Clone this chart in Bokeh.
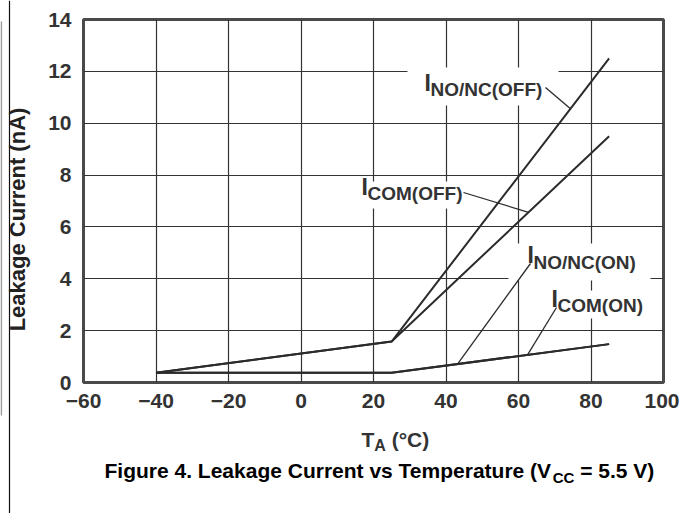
import numpy as np
from bokeh.plotting import figure
from bokeh.layouts import row, column
from bokeh.models import Label, BoxAnnotation, FixedTicker
from bokeh.embed import file_html
from bokeh.resources import INLINE

# ---------------- data ----------------
temps = [-40, 25, 85]
i_nonc_off = [0.38, 1.58, 12.5]
i_com_off = [0.38, 1.58, 9.5]
i_nonc_on = [0.38, 0.38, 1.48]
i_com_on = [0.38, 0.38, 1.48]

x_ticks = [-60, -40, -20, 0, 20, 40, 60, 80, 100]
x_tick_labels = ["\u221260", "\u221240", "\u221220", "0", "20", "40", "60", "80", "100"]
y_ticks = [0, 2, 4, 6, 8, 10, 12, 14]
y_tick_labels = ["0", "2", "4", "6", "8", "10", "12", "14"]

FONT = "Liberation Sans"
INK = "#2b2b2b"
GRAY = "#333333"

TOTAL_W, TOTAL_H = 679, 513
LEFT_W = 40
MAIN_H = 420
BASE_FIX = 0.43   # renderer's alphabetic anchor sits this many em below the glyph baseline

# ---------------- layout helpers (page pixel -> data) ----------------
FL, FR, FT, FB = 83.0, 663.0, 19.0, 382.0
def dx(px):
    return -60 + (px - FL) / (FR - FL) * 160.0
def dy(py):
    return (FB - py) / (FB - FT) * 14.0

W = {" ": 278, "(": 333, ")": 333, ".": 278, "/": 278, "=": 584, "\u00b0": 400,
     "4": 556, "5": 556, "A": 722, "C": 722, "F": 611, "I": 278, "L": 611,
     "M": 833, "N": 722, "O": 778, "T": 611, "V": 667, "a": 556, "e": 556,
     "g": 611, "i": 278, "k": 556, "m": 889, "n": 611, "p": 611, "r": 389,
     "s": 556, "t": 333, "u": 611, "v": 556}
def tw(s, size):
    return sum(W.get(c, 556) for c in s) * size / 1000.0

def mk_label(x, y, text, size, color, x_off=0.0, **kw):
    return Label(x=x, y=y, x_offset=x_off, text=text, text_font=FONT,
                 text_font_style="bold", text_font_size=f"{size}px", text_color=color,
                 text_align=kw.pop("align", "left"), text_baseline="alphabetic",
                 level="overlay", **kw)

def blank_fig(w, h, xr, yr, **borders):
    f = figure(width=w, height=h, x_range=xr, y_range=yr, output_backend="svg",
               toolbar_location=None, x_axis_type=None, y_axis_type=None,
               title=None, **borders)
    f.outline_line_color = None
    f.background_fill_color = "white"
    f.border_fill_color = "white"
    return f

# ---------------- main chart ----------------
p = figure(width=TOTAL_W - LEFT_W, height=MAIN_H, x_range=(-60, 100), y_range=(0, 14),
           output_backend="svg", toolbar_location=None, title=None,
           min_border_left=int(FL) - LEFT_W, min_border_right=TOTAL_W - int(FR),
           min_border_top=int(FT), min_border_bottom=MAIN_H - int(FB))
p.background_fill_color = "white"
p.border_fill_color = "white"
p.outline_line_color = "#4a4a4a"
p.outline_line_width = 3

xt = FixedTicker(ticks=x_ticks)
yt = FixedTicker(ticks=y_ticks)
p.xaxis.ticker = xt
p.yaxis.ticker = yt
p.xgrid.ticker = xt
p.ygrid.ticker = yt
p.xaxis.major_label_overrides = {t: l for t, l in zip(x_ticks, x_tick_labels)}
p.yaxis.major_label_overrides = {t: l for t, l in zip(y_ticks, y_tick_labels)}
for ax in (p.xaxis[0], p.yaxis[0]):
    ax.axis_line_color = None
    ax.major_tick_line_color = None
    ax.minor_tick_line_color = None
    ax.major_tick_out = 0
    ax.major_tick_in = 0
    ax.major_label_text_font = FONT
    ax.major_label_text_font_style = "bold"
    ax.major_label_text_font_size = "21px"
    ax.major_label_text_color = GRAY
p.xaxis.major_label_standoff = 11
p.yaxis.major_label_standoff = 12
p.grid.grid_line_color = GRAY
p.grid.grid_line_width = 1.2

for ys in (i_nonc_on, i_com_on, i_com_off, i_nonc_off):
    p.line(temps, ys, line_color=INK, line_width=2)

boxes = [(407, 558, 67, 105), (355, 470, 181, 208), (508, 650, 243, 280), (540, 650, 290, 318)]
for l, r, t, b in boxes:
    p.add_layout(BoxAnnotation(left=dx(l), right=dx(r), top=dy(t), bottom=dy(b),
                               fill_color="white", fill_alpha=1.0, line_color=None))

leaders = [((545, 87), i_nonc_off, dx(570)),
           ((463, 192), i_com_off, dx(528)),
           ((530, 263), i_nonc_on, dx(457)),
           ((556, 307), i_com_on, dx(527))]
for (sx, sy), curve, tx in leaders:
    ty = float(np.interp(tx, temps, curve))
    p.segment(x0=[dx(sx)], y0=[dy(sy)], x1=[tx], y1=[ty], line_color=INK,
              line_width=1.3, level="overlay")

curve_labels = [(424, 92, "NO/NC(OFF)"), (361, 196, "COM(OFF)"),
                (527, 264.5, "NO/NC(ON)"), (551, 308, "COM(ON)")]
for px, base, sub in curve_labels:
    p.add_layout(mk_label(dx(px), dy(base - BASE_FIX * 23), "I", 23, GRAY))
    p.add_layout(mk_label(dx(px), dy(base + 5.5 - BASE_FIX * 19), sub, 19, GRAY, x_off=6))

# ---------------- left strip: y-axis title ----------------
left = blank_fig(LEFT_W, TOTAL_H, (0, LEFT_W), (TOTAL_H, 0), min_border=0)
left.segment(x0=[9], y0=[0], x1=[9], y1=[TOTAL_H], line_color="#111111", line_width=1.2)
left.segment(x0=[0.8], y0=[21], x1=[0.8], y1=[415], line_color="#9a9a9a", line_width=1.6)
left.add_layout(mk_label(27 - 10, 219, "Leakage Current (nA)", 22, "#222222",
                         align="center", angle=90, angle_units="deg"))

# ---------------- bottom strip: x-axis title + caption ----------------
bot = blank_fig(TOTAL_W - LEFT_W, TOTAL_H - MAIN_H, (FL, FR), (TOTAL_H, MAIN_H),
                min_border_left=int(FL) - LEFT_W, min_border_right=TOTAL_W - int(FR),
                min_border_top=0, min_border_bottom=0)
sp21 = tw(" ", 21)
bot.add_layout(mk_label(361, 448 - BASE_FIX * 21, "T", 21, GRAY))
bot.add_layout(mk_label(361, 452 - BASE_FIX * 16, "A", 16, GRAY, x_off=tw("T", 21)))
bot.add_layout(mk_label(361, 448 - BASE_FIX * 21, "(\u00b0C)", 21, GRAY,
                        x_off=tw("T", 21) + tw("A", 16) + sp21))

c1 = "Figure 4. Leakage Current vs Temperature (V"
c2 = "CC"
c3 = "= 5.5 V)"
bot.add_layout(mk_label(104, 479 - BASE_FIX * 21, c1, 21, "#000000"))
bot.add_layout(mk_label(104, 483 - BASE_FIX * 15, c2, 15, "#000000", x_off=tw(c1, 21)))
bot.add_layout(mk_label(104, 479 - BASE_FIX * 21, c3, 21, "#000000",
                        x_off=tw(c1, 21) + tw(c2, 15) + sp21))

layout = row(left, column(p, bot, spacing=0), spacing=0)
open("out.html", "w").write(file_html(layout, INLINE))
